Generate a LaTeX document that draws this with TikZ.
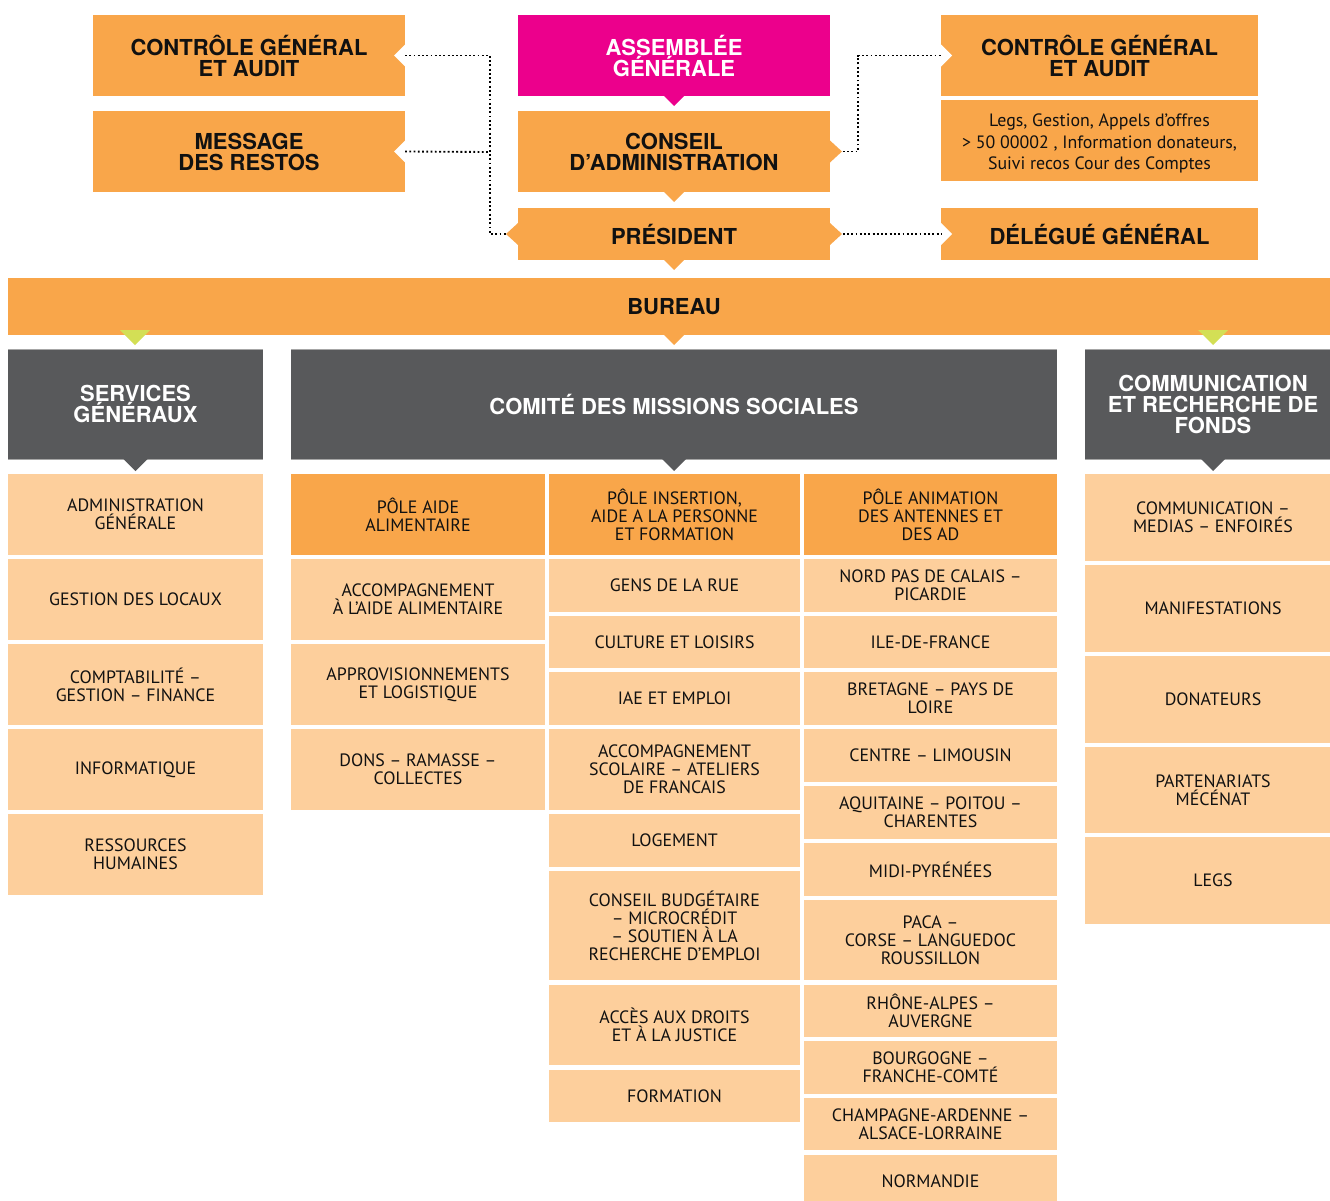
\documentclass[tikz,border=0pt]{standalone}
\usepackage{fontspec}
\setmainfont{PT Sans}
\newfontfamily\hfont{TeX Gyre Heros}
\definecolor{cOr}{HTML}{F9A64A}
\definecolor{cPe}{HTML}{FDCF9C}
\definecolor{cMag}{HTML}{EC008C}
\definecolor{cGr}{HTML}{58595B}
\definecolor{cGn}{HTML}{D3DF55}
\definecolor{txt}{HTML}{111111}
\newcommand\orgbox[7]{\node[#6, minimum width={(#4-#2)*0.75pt}, minimum height={(#5-#3)*0.75pt}] (#1) at ({(#2+#4)/2},{(#3+#5)/2}) {#7};}
\newcommand\tdown[3]{\fill[#3] (#1.south) ++(-#2,0) -- ++(2*#2,0) -- ++(-#2,#2) -- cycle;}
\tikzset{
 base/.style={rectangle, inner sep=0pt, outer sep=0pt, align=center, text=txt},
 hdbox/.style={base, fill=cOr, font=\hfont\bfseries\fontsize{16.5}{15.75}\selectfont},
 agbox/.style={hdbox, fill=cMag, text=white},
 grbox/.style={base, fill=cGr, text=white, font=\hfont\bfseries\fontsize{16.5}{15.75}\selectfont},
 polebox/.style={base, fill=cOr, font=\fontsize{13.4}{13.5}\selectfont},
 itembox/.style={base, fill=cPe, font=\fontsize{13.4}{13.5}\selectfont},
 legsbox/.style={base, fill=cOr, font=\fontsize{13.4}{16}\selectfont},
 dotline/.style={line width=1.4pt, dash pattern=on 1.4pt off 1.8pt, black},
 grline/.style={line width=0.6pt, draw=black!35},
}
\begin{document}
\begin{tikzpicture}[x=0.75pt,y=-0.75pt]
\useasboundingbox (0,0) rectangle (1330,1200);
\clip (0,0) rectangle (1330,1200);
% top boxes
\orgbox{cg1}{93}{15}{405}{96}{hdbox}{CONTRÔLE GÉNÉRAL\\ET AUDIT}
\orgbox{msg}{93}{111}{405}{192}{hdbox}{MESSAGE\\DES RESTOS}
\orgbox{ag}{518}{15}{830}{96}{agbox}{ASSEMBLÉE\\GÉNÉRALE}
\orgbox{ca}{518}{111}{830}{192}{hdbox}{CONSEIL\\D’ADMINISTRATION}
\orgbox{pres}{518}{208}{830}{260}{hdbox}{PRÉSIDENT}
\orgbox{cg2}{941}{15}{1258}{96}{hdbox}{CONTRÔLE GÉNÉRAL\\ET AUDIT}
\orgbox{legs}{941}{100}{1258}{181}{legsbox}{\parbox{225pt}{\vspace*{4.5pt}\centering Legs, Gestion, Appels d’offres\\> 50 00002 , Information donateurs,\\Suivi recos Cour des Comptes}}
\orgbox{dg}{941}{208}{1258}{260}{hdbox}{DÉLÉGUÉ GÉNÉRAL}
\orgbox{bur}{8}{278}{1340}{335}{hdbox}{BUREAU}
% notches (white)
\fill[white] (cg1.east) ++(0,-11) -- ++(-11,11) -- ++(11,11) -- cycle;
\fill[white] (msg.east) ++(0,-11) -- ++(-11,11) -- ++(11,11) -- cycle;
\fill[white] (cg2.west) ++(0,-11) -- ++(11,11) -- ++(-11,11) -- cycle;
\fill[white] (dg.west) ++(0,-11) -- ++(11,11) -- ++(-11,11) -- cycle;
% dotted connectors
\coordinate (lj) at (490,152);
\coordinate (rj) at (858,100);
\draw[dotline] (cg1.east) -| (lj) |- (pres.west);
\draw[dotline] (msg.east) -- (lj);
\draw[dotline] (ca.east) -| (rj) |- (cg2.west);
\draw[dotline] (pres.east) -- (dg.west);
% protrusions
\fill[cOr] (ca.east) ++(0,-11) -- ++(12,11) -- ++(-12,11) -- cycle;
\fill[cOr] (pres.east) ++(0,-11) -- ++(12,11) -- ++(-12,11) -- cycle;
\fill[cOr] (pres.west) ++(0,-11) -- ++(-12,11) -- ++(12,11) -- cycle;
% down triangles top
\tdown{ag}{10}{cMag}
\tdown{ca}{10}{cOr}
\tdown{pres}{10}{cOr}
\tdown{bur}{10}{cOr}
% gray headings
\orgbox{sg}{8}{349}{263}{459}{grbox}{SERVICES\\GÉNÉRAUX}
\orgbox{cms}{291}{349}{1057}{459}{grbox}{COMITÉ DES MISSIONS SOCIALES}
\orgbox{crf}{1085}{349}{1341}{459}{grbox}{COMMUNICATION\\ET RECHERCHE DE\\FONDS}
\foreach \n in {sg,cms,crf}{
  \draw[grline] (\n.north west) -- (\n.north east);
  \draw[grline] (\n.south west) -- (\n.south east);
}
\fill[cGn] (120,330) -- (150,330) -- (135,345) -- cycle;
\fill[cGn] (1198,330) -- (1228,330) -- (1213,345) -- cycle;
\tdown{sg}{12}{cGr}
\tdown{cms}{12}{cGr}
\tdown{crf}{12}{cGr}
% column 1
\orgbox{s1}{8}{474}{263}{555}{itembox}{ADMINISTRATION\\GÉNÉRALE}
\orgbox{s2}{8}{559}{263}{640}{itembox}{GESTION DES LOCAUX}
\orgbox{s3}{8}{644}{263}{725}{itembox}{COMPTABILITÉ –\\GESTION – FINANCE}
\orgbox{s4}{8}{729}{263}{810}{itembox}{INFORMATIQUE}
\orgbox{s5}{8}{814}{263}{895}{itembox}{RESSOURCES\\HUMAINES}
% column 2
\orgbox{a0}{291}{474}{545}{555}{polebox}{PÔLE AIDE\\ALIMENTAIRE}
\orgbox{a1}{291}{559}{545}{640}{itembox}{ACCOMPAGNEMENT\\À L’AIDE ALIMENTAIRE}
\orgbox{a2}{291}{644}{545}{725}{itembox}{APPROVISIONNEMENTS\\ET LOGISTIQUE}
\orgbox{a3}{291}{729}{545}{810}{itembox}{DONS – RAMASSE –\\COLLECTES}
% column 3
\orgbox{i0}{549}{474}{800}{555}{polebox}{PÔLE INSERTION,\\AIDE A LA PERSONNE\\ET FORMATION}
\orgbox{i1}{549}{559}{800}{612}{itembox}{GENS DE LA RUE}
\orgbox{i2}{549}{616}{800}{668}{itembox}{CULTURE ET LOISIRS}
\orgbox{i3}{549}{672}{800}{725}{itembox}{IAE ET EMPLOI}
\orgbox{i4}{549}{729}{800}{810}{itembox}{ACCOMPAGNEMENT\\SCOLAIRE – ATELIERS\\DE FRANCAIS}
\orgbox{i5}{549}{814}{800}{867}{itembox}{LOGEMENT}
\orgbox{i6}{549}{871}{800}{980}{itembox}{CONSEIL BUDGÉTAIRE\\– MICROCRÉDIT\\– SOUTIEN À LA\\RECHERCHE D’EMPLOI}
\orgbox{i7}{549}{985}{800}{1065}{itembox}{ACCÈS AUX DROITS\\ET À LA JUSTICE}
\orgbox{i8}{549}{1070}{800}{1122}{itembox}{FORMATION}
% column 4
\orgbox{r0}{804}{474}{1057}{555}{polebox}{PÔLE ANIMATION\\DES ANTENNES ET\\DES AD}
\orgbox{r1}{804}{559}{1057}{612}{itembox}{NORD PAS DE CALAIS –\\PICARDIE}
\orgbox{r2}{804}{616}{1057}{668}{itembox}{ILE-DE-FRANCE}
\orgbox{r3}{804}{672}{1057}{725}{itembox}{BRETAGNE – PAYS DE\\LOIRE}
\orgbox{r4}{804}{729}{1057}{782}{itembox}{CENTRE – LIMOUSIN}
\orgbox{r5}{804}{786}{1057}{839}{itembox}{AQUITAINE – POITOU –\\CHARENTES}
\orgbox{r6}{804}{843}{1057}{896}{itembox}{MIDI-PYRÉNÉES}
\orgbox{r7}{804}{900}{1057}{980}{itembox}{PACA –\\CORSE – LANGUEDOC\\ROUSSILLON}
\orgbox{r8}{804}{985}{1057}{1037}{itembox}{RHÔNE-ALPES –\\AUVERGNE}
\orgbox{r9}{804}{1041}{1057}{1094}{itembox}{BOURGOGNE –\\FRANCHE-COMTÉ}
\orgbox{r10}{804}{1098}{1057}{1150}{itembox}{CHAMPAGNE-ARDENNE –\\ALSACE-LORRAINE}
\orgbox{r11}{804}{1155}{1057}{1207}{itembox}{NORMANDIE}
% column 5
\orgbox{c1}{1085}{474}{1341}{561}{itembox}{COMMUNICATION –\\MEDIAS – ENFOIRÉS}
\orgbox{c2}{1085}{565}{1341}{652}{itembox}{MANIFESTATIONS}
\orgbox{c3}{1085}{656}{1341}{743}{itembox}{DONATEURS}
\orgbox{c4}{1085}{747}{1341}{833}{itembox}{PARTENARIATS\\MÉCÉNAT}
\orgbox{c5}{1085}{837}{1341}{924}{itembox}{LEGS}
\end{tikzpicture}
\end{document}
